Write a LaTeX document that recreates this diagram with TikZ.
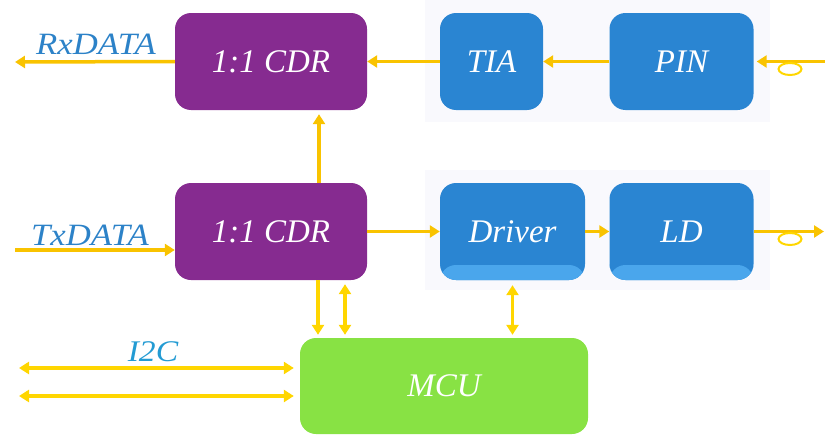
\documentclass[tikz,border=0pt]{standalone}
\usepackage{fontspec}
\setmainfont{Liberation Serif}
\newfontfamily\widefont{Liberation Serif}[FakeStretch=1.12]
\usetikzlibrary{arrows.meta}
\definecolor{cdrc}{HTML}{862B90}
\definecolor{blkc}{HTML}{2A85D2}
\definecolor{blklt}{HTML}{4AA6EC}
\definecolor{mcuc}{HTML}{88E244}
\definecolor{arrc}{HTML}{F9C300}
\definecolor{arrlt}{HTML}{FFD600}
\definecolor{lblc}{HTML}{2C82C8}
\definecolor{panelc}{HTML}{F9F9FD}
\begin{document}
\begin{tikzpicture}[x=1pt,y=-1pt,
  blockbox/.style={rounded corners=16pt, inner sep=0pt, text=white,
    font=\fontsize{33}{33}\selectfont\itshape, minimum height=97pt},
  cdrbox/.style={blockbox, fill=cdrc, minimum width=192pt},
  bluebox/.style={blockbox, fill=blkc},
  stripbox/.style={bluebox, path picture={\fill[blklt] ([yshift=15pt]path picture bounding box.south west) rectangle (path picture bounding box.south east);}},
  sig/.style={draw=arrc, line width=3.5pt, -{Triangle[length=10pt,width=12pt]}},
  sigb/.style={draw=arrlt, line width=3.5pt, {Triangle[length=10pt,width=12pt]}-{Triangle[length=10pt,width=12pt]}},
  siglt/.style={draw=arrlt, line width=3.5pt, -{Triangle[length=10pt,width=12pt]}},
  lbl/.style={text=lblc, font=\widefont\fontsize{31}{31}\selectfont\itshape, inner sep=0pt},
  loopc/.style={draw=arrlt, line width=2pt}
]
\useasboundingbox (0,0) rectangle (825,439);
% panels
\fill[panelc] (425,0) rectangle (770,122);
\fill[panelc] (425,170) rectangle (770,290);

% blocks
\node[cdrbox] (rxcdr) at (271,61.5) {1:1 CDR};
\node[bluebox, minimum width=103pt] (tia) at (491.5,61.5) {TIA};
\node[bluebox, minimum width=144pt] (pin) at (681.5,61.5) {PIN};
\node[cdrbox] (txcdr) at (271,231.5) {1:1 CDR};
\node[stripbox, minimum width=145pt] (drv) at (512.5,231.5) {Driver};
\node[stripbox, minimum width=144pt] (ld) at (681.5,231.5) {LD};
\node[blockbox, fill=mcuc, minimum width=288pt, minimum height=96pt] (mcu) at (444,386) {MCU};

% free ends
\coordinate (rxout) at (15,62);
\coordinate (fibin) at (825,62);
\coordinate (txin) at (15,250);
\coordinate (fibout) at (824,233);
\coordinate (iica) at (19,368);
\coordinate (iicb) at (19,396);

% receive path
\draw[sig] (pin.west) -- (tia.east);
\draw[sig] (tia.west) -- (rxcdr.east);
\draw[sig] (rxcdr.west) -- (rxout);
\draw[sig, shorten >=3pt] (fibin |- pin.east) -- (pin.east);
\draw[loopc] (790,69) ellipse [x radius=11.5pt, y radius=6pt];
\node[lbl] (rxl) at (96,44) {RxDATA};

% transmit path
\draw[sig] (txin) -- (txcdr.west |- txin);
\node[lbl] (txl) at (90,235) {TxDATA};
\draw[sig] (txcdr.east) -- (drv.west);
\draw[sig] (drv.east) -- (ld.west);
\draw[sig] (ld.east) -- (fibout |- ld.east);
\draw[loopc] (790,239) ellipse [x radius=11.5pt, y radius=6pt];

% CDR to CDR
\draw[sig, shorten >=4pt] ([xshift=48pt]txcdr.north) -- ([xshift=48pt]rxcdr.south);

% to MCU
\draw[siglt, shorten >=3pt] ([xshift=47pt]txcdr.south) -- ([xshift=47pt]txcdr.south |- mcu.north);
\draw[sigb, shorten <=4pt, shorten >=3pt] ([xshift=74pt]txcdr.south) -- ([xshift=74pt]txcdr.south |- mcu.north);
\draw[sigb, shorten <=5pt, shorten >=3pt] (drv.south) -- (drv.south |- mcu.north);

% I2C
\draw[sigb, shorten >=6pt] (iica) -- (mcu.west |- iica);
\draw[sigb, shorten >=6pt] (iicb) -- (mcu.west |- iicb);
\node[lbl, text=lblc!80!cyan, font=\widefont\fontsize{30}{30}\selectfont\itshape] (i2c) at (153,352) {I2C};
\end{tikzpicture}
\end{document}
